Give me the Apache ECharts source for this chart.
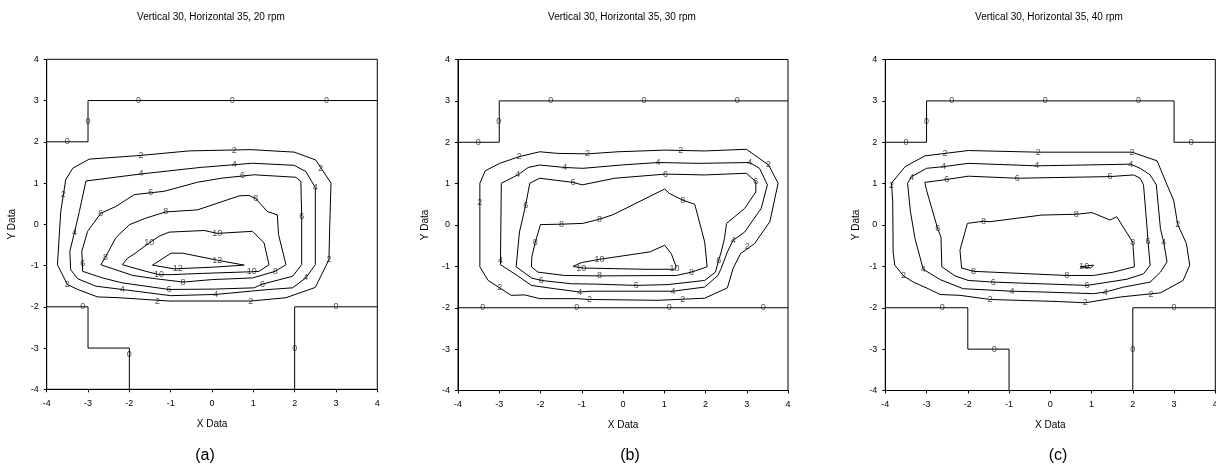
<!DOCTYPE html>
<html>
<head>
<meta charset="utf-8">
<script src="https://cdn.jsdelivr.net/npm/echarts@6/dist/echarts.min.js"></script>
<style>
html,body{margin:0;padding:0;background:#fff;}
#chart{width:1216px;height:471px;}
</style>
</head>
<body>
<div id="chart"></div>
<script>
// ---------- titles / tick values ----------
const panelTitles = ["Vertical 30, Horizontal 35, 20 rpm", "Vertical 30, Horizontal 35, 30 rpm", "Vertical 30, Horizontal 35, 40 rpm"];
const panelTags = ["(a)", "(b)", "(c)"];
const axisMin = -4, axisMax = 4, axisStep = 1;

// ---------- panel (a): 20 rpm contour lines [x, y] ----------
const a0Top = [[-4,2],[-3,2],[-3,3],[4,3]];
const a0BL = [[-4,-2],[-3,-2],[-3,-3],[-2,-3],[-2,-4]];
const a0BR = [[2,-4],[2,-2],[4,-2]];
const a2 = [[-2.97,1.58],[-1.72,1.67],[-0.55,1.78],[0.94,1.81],[1.99,1.75],[2.51,1.56],[2.88,1.00],[2.85,0.0],[2.83,-0.86],[2.71,-1.10],[2.50,-1.53],[1.79,-1.78],[0.94,-1.86],[-1.04,-1.86],[-2.25,-1.78],[-2.77,-1.76],[-3.25,-1.58],[-3.50,-1.46],[-3.74,-0.98],[-3.66,0.31],[-3.54,1.08],[-3.37,1.36],[-2.97,1.58]];
const a4 = [[-3.05,1.05],[-1.72,1.22],[-0.27,1.38],[0.98,1.48],[1.99,1.43],[2.27,1.28],[2.50,0.89],[2.50,-0.98],[2.27,-1.30],[1.95,-1.54],[1.38,-1.58],[0.09,-1.70],[-1.00,-1.73],[-2.17,-1.58],[-2.81,-1.50],[-3.25,-1.32],[-3.42,-1.10],[-3.44,-0.65],[-3.33,-0.21],[-3.21,0.31],[-3.05,1.05]];
const a6 = [[-1.88,0.72],[-1.16,0.80],[-0.79,0.90],[-0.35,1.02],[0.25,1.12],[1.02,1.20],[2.03,1.14],[2.15,1.04],[2.17,0.19],[2.17,-0.98],[1.95,-1.26],[1.22,-1.45],[1.02,-1.54],[0.09,-1.57],[-1.04,-1.58],[-1.60,-1.50],[-2.17,-1.42],[-2.65,-1.30],[-3.13,-1.14],[-3.15,-0.65],[-3.01,-0.17],[-2.69,0.27],[-2.33,0.43],[-1.88,0.72]];
const a8 = [[-2.69,-0.98],[-1.92,-1.24],[-1.36,-1.32],[-0.70,-1.40],[0.01,-1.34],[0.98,-1.30],[1.53,-1.14],[1.79,-0.98],[1.61,-0.25],[1.58,0.23],[1.34,0.31],[1.06,0.62],[0.90,0.70],[0.66,0.69],[-0.35,0.35],[-1.12,0.30],[-1.60,0.15],[-2.00,-0.01],[-2.33,-0.33],[-2.58,-0.80],[-2.69,-0.98]];
const a10 = [[-2.17,-0.98],[-2.04,-0.82],[-1.84,-0.69],[-1.52,-0.45],[-1.28,-0.29],[-1.04,-0.19],[-0.19,-0.15],[0.13,-0.22],[0.98,-0.17],[1.26,-0.45],[1.38,-0.98],[1.14,-1.14],[0.96,-1.15],[-0.23,-1.19],[-0.99,-1.22],[-1.28,-1.22],[-1.60,-1.14],[-2.17,-0.98]];
const a12 = [[-1.44,-0.99],[-0.99,-0.70],[-0.71,-0.70],[0.13,-0.87],[0.78,-0.99],[0.01,-1.04],[-0.92,-1.08],[-1.44,-0.99]];
// contour labels [x, y, level]
const aLabels = [
[-3.50,2.0,0],[-3.0,2.5,0],[-1.78,3,0],[0.49,3,0],[2.77,3,0],[-3.13,-2,0],[-2.0,-3.15,0],[2.0,-3.0,0],[3.0,-2,0],
[-1.72,1.67,2],[0.54,1.78,2],[2.63,1.36,2],[-3.60,0.72,2],[2.83,-0.86,2],[-3.50,-1.46,2],[-1.32,-1.86,2],[0.94,-1.86,2],
[-1.72,1.22,4],[0.54,1.46,4],[2.50,0.89,4],[-3.33,-0.21,4],[2.27,-1.30,4],[-2.17,-1.58,4],[0.09,-1.70,4],
[-1.48,0.76,6],[0.74,1.18,6],[2.17,0.19,6],[-3.13,-0.96,6],[-1.04,-1.58,6],[1.22,-1.45,6],[-2.69,0.27,6],
[1.06,0.62,8],[-1.12,0.30,8],[-2.58,-0.80,8],[-0.70,-1.40,8],[1.53,-1.14,8],
[-1.52,-0.45,10],[0.13,-0.22,10],[-1.28,-1.22,10],[0.96,-1.15,10],
[0.13,-0.87,12],[-0.83,-1.08,12]];

// ---------- panel (b): 30 rpm ----------
const b0Top = [[-4,2],[-3,2],[-3,3],[4,3]];
const b0Bot = [[-4,-2],[4,-2]];
const b2 = [[-3.47,1.01],[-3.34,1.31],[-2.99,1.49],[-2.52,1.65],[-2.02,1.77],[-1.58,1.73],[-0.86,1.72],[-0.12,1.77],[1.01,1.81],[1.98,1.79],[2.99,1.83],[3.53,1.45],[3.76,1.01],[3.56,0.08],[3.19,-0.45],[2.85,-0.69],[2.67,-1.05],[2.53,-1.52],[1.98,-1.77],[0.85,-1.82],[-0.81,-1.80],[-1.13,-1.78],[-2.02,-1.78],[-2.38,-1.69],[-2.71,-1.70],[-2.99,-1.52],[-3.27,-1.34],[-3.47,-1.01],[-3.47,1.01]];
const b4 = [[-2.95,1.01],[-2.55,1.21],[-2.30,1.39],[-2.02,1.45],[-1.41,1.39],[-0.97,1.37],[-0.04,1.45],[0.85,1.51],[1.82,1.49],[3.07,1.51],[3.31,1.37],[3.50,0.97],[3.35,0.40],[2.95,-0.17],[2.67,-0.37],[2.53,-0.65],[2.38,-1.05],[2.30,-1.22],[1.98,-1.50],[1.21,-1.60],[-0.77,-1.60],[-1.05,-1.62],[-1.66,-1.54],[-2.22,-1.46],[-2.55,-1.23],[-2.97,-0.96],[-2.97,-0.85],[-2.95,1.01]];
const b6 = [[-2.26,1.01],[-2.02,1.13],[-1.21,1.03],[-0.99,0.97],[-0.20,1.13],[1.03,1.23],[1.98,1.21],[2.99,1.25],[3.22,1.05],[3.22,0.80],[2.95,0.40],[2.51,0.04],[2.46,-0.33],[2.38,-0.65],[2.32,-0.85],[2.24,-1.14],[1.98,-1.34],[1.09,-1.44],[0.32,-1.46],[-0.61,-1.43],[-1.25,-1.42],[-1.98,-1.34],[-2.22,-1.28],[-2.59,-1.01],[-2.51,-0.17],[-2.36,0.48],[-2.26,1.01]];
const b8 = [[-2.00,0.01],[-1.49,0.02],[-0.97,0.04],[-0.57,0.14],[-0.24,0.25],[1.01,0.87],[1.13,0.76],[1.45,0.60],[1.74,0.50],[1.98,-0.41],[2.04,-1.01],[1.66,-1.14],[1.29,-1.22],[-0.57,-1.23],[-1.41,-1.22],[-2.06,-1.14],[-2.22,-1.01],[-2.21,-0.77],[-2.13,-0.43],[-2.00,0.01]];
const b10 = [[-1.21,-1.00],[-1.01,-0.91],[-0.57,-0.83],[0.65,-0.65],[1.01,-0.49],[1.17,-0.69],[1.29,-1.01],[1.25,-1.07],[0.53,-1.07],[-0.97,-1.04],[-1.21,-1.00]];
const bLabels = [
[-3.51,2,0],[-3.01,2.5,0],[-1.75,3,0],[0.51,3,0],[2.77,3,0],[-3.4,-2,0],[-1.12,-2,0],[1.12,-2,0],[3.40,-2,0],
[-2.52,1.65,2],[-0.86,1.72,2],[1.40,1.79,2],[3.53,1.45,2],[-3.47,0.55,2],[3.01,-0.53,2],[-2.99,-1.52,2],[-0.81,-1.80,2],[1.45,-1.80,2],
[-2.55,1.21,4],[-1.41,1.39,4],[0.85,1.51,4],[3.07,1.51,4],[2.67,-0.37,4],[-2.97,-0.85,4],[-1.05,-1.62,4],[1.21,-1.60,4],
[-1.21,1.03,6],[1.03,1.23,6],[3.22,1.05,6],[-2.36,0.48,6],[2.32,-0.85,6],[-1.98,-1.34,6],[0.32,-1.46,6],
[-1.49,0.02,8],[-0.57,0.14,8],[1.45,0.60,8],[-2.13,-0.43,8],[1.66,-1.14,8],[-0.57,-1.23,8],
[-0.57,-0.83,10],[-1.01,-1.04,10],[1.25,-1.05,10]];

// ---------- panel (c): 40 rpm ----------
const c0Top = [[-4,2],[-3,2],[-3,3],[3,3],[3,2],[4,2]];
const c0BL = [[-4,-2],[-2,-2],[-2,-3],[-1,-3],[-1,-4]];
const c0BR = [[2,-4],[2,-2],[4,-2]];
const c2 = [[-3.85,1.01],[-3.52,1.41],[-3.04,1.67],[-2.55,1.73],[-1.99,1.80],[-0.29,1.76],[1.98,1.76],[2.59,1.55],[2.83,0.97],[2.99,0.60],[3.09,0.01],[3.30,-0.45],[3.38,-0.97],[3.22,-1.34],[2.67,-1.64],[1.70,-1.74],[0.85,-1.88],[0.20,-1.85],[-1.46,-1.80],[-2.19,-1.70],[-2.67,-1.68],[-2.96,-1.54],[-3.32,-1.38],[-3.56,-1.23],[-3.77,-0.97],[-3.81,-0.65],[-3.82,0.56],[-3.85,1.01]];
const c4 = [[-3.36,1.17],[-3.00,1.37],[-2.59,1.41],[-1.99,1.49],[-0.33,1.43],[1.95,1.47],[2.18,1.37],[2.42,1.21],[2.57,0.97],[2.67,-0.09],[2.75,-0.42],[2.83,-0.89],[2.67,-1.14],[2.42,-1.38],[1.78,-1.50],[1.33,-1.62],[1.05,-1.66],[-0.17,-1.62],[-0.93,-1.60],[-2.11,-1.54],[-2.67,-1.32],[-3.08,-1.07],[-3.28,-0.33],[-3.39,0.32],[-3.46,1.01],[-3.36,1.17]];
const c6 = [[-3.04,1.03],[-2.51,1.10],[-1.99,1.18],[-0.80,1.13],[1.45,1.17],[2.02,1.21],[2.18,1.13],[2.26,0.97],[2.34,0.00],[2.37,-0.41],[2.42,-0.97],[2.26,-1.18],[1.86,-1.31],[0.89,-1.46],[-1.38,-1.38],[-1.99,-1.34],[-2.31,-1.23],[-2.63,-1.01],[-2.65,-0.29],[-2.73,-0.09],[-3.00,0.84],[-3.04,1.03]];
const c8 = [[-2.01,0.04],[-1.62,0.09],[-1.46,0.08],[-0.21,0.24],[0.63,0.26],[1.01,0.30],[1.45,0.12],[1.61,0.20],[2.00,-0.42],[2.04,-1.01],[1.53,-1.14],[1.05,-1.22],[0.40,-1.22],[-1.86,-1.12],[-2.15,-1.04],[-2.19,-0.61],[-2.01,0.04]];
const c10 = [[0.72,-1.01],[1.05,-0.97],[0.98,-1.04],[0.72,-1.01]];
const cLabels = [
[-3.5,2,0],[-3.0,2.5,0],[-2.39,3,0],[-0.12,3,0],[2.14,3,0],[3.42,2,0],[-2.62,-2,0],[-1.36,-3,0],[2.0,-3,0],[3.0,-2,0],
[-2.55,1.73,2],[-0.29,1.76,2],[1.98,1.76,2],[-3.85,0.95,2],[3.09,0.01,2],[-3.56,-1.23,2],[2.44,-1.68,2],[-1.46,-1.80,2],[0.85,-1.88,2],
[-3.36,1.15,4],[-2.59,1.41,4],[-0.33,1.43,4],[1.95,1.47,4],[2.75,-0.42,4],[-3.08,-1.07,4],[-0.93,-1.60,4],[1.33,-1.62,4],
[-2.51,1.10,6],[-0.80,1.13,6],[1.45,1.17,6],[-2.73,-0.09,6],[2.37,-0.41,6],[-1.38,-1.38,6],[0.89,-1.46,6],
[-1.62,0.09,8],[0.63,0.26,8],[2.00,-0.42,8],[-1.86,-1.12,8],[0.40,-1.22,8],
[0.82,-1.01,10]];

// ---------- build ----------
const FONT = "'Liberation Sans', Arial, sans-serif";
const panels = [
  {lines:[a0Top,a0BL,a0BR,a2,a4,a6,a8,a10,a12], labels:aLabels},
  {lines:[b0Top,b0Bot,b2,b4,b6,b8,b10], labels:bLabels},
  {lines:[c0Top,c0BL,c0BR,c2,c4,c6,c8,c10], labels:cLabels}
];
const grids = [
  {left:46.7, top:59.3, width:330.6, height:330},
  {left:458, top:59.5, width:330, height:331},
  {left:885.3, top:59.5, width:330, height:331}
];
const yNameGaps = [29, 28, 24];
const titleX = [211, 622, 1049];
const tagX = [205, 630, 1058];

const option = {
  animation:false,
  backgroundColor:'#fff',
  grid: grids.map(g => Object.assign({show:true, borderColor:'#000', borderWidth:1, backgroundColor:'transparent', containLabel:false, outerBoundsMode:'none'}, g)),
  xAxis: grids.map((g,i) => ({
    type:'value', gridIndex:i, min:axisMin, max:axisMax, interval:axisStep,
    name:'X Data', nameLocation:'middle', nameGap:30,
    nameTextStyle:{fontSize:10, color:'#000', fontFamily:FONT},
    axisLine:{show:true, onZero:false, lineStyle:{color:'#000', width:1}},
    axisTick:{show:true, length:3, inside:false, lineStyle:{color:'#000'}},
    axisLabel:{fontSize:9, color:'#000', margin:10, fontFamily:FONT, showMinLabel:true, showMaxLabel:true, hideOverlap:false},
    splitLine:{show:false}
  })),
  yAxis: grids.map((g,i) => ({
    type:'value', gridIndex:i, min:axisMin, max:axisMax, interval:axisStep,
    name:'Y Data', nameLocation:'middle', nameGap:yNameGaps[i], nameRotate:90,
    nameTextStyle:{fontSize:10, color:'#000', fontFamily:FONT},
    axisLine:{show:true, onZero:false, lineStyle:{color:'#000', width:1}},
    axisTick:{show:true, length:3, inside:false, lineStyle:{color:'#000'}},
    axisLabel:{fontSize:9, color:'#000', margin:8, fontFamily:FONT, showMinLabel:true, showMaxLabel:true, hideOverlap:false},
    splitLine:{show:false}
  })),
  graphic: [].concat(
    panelTitles.map((t,i) => ({type:'text', x:titleX[i], y:17, silent:true,
      style:{text:t, fill:'#000', font:'10px ' + FONT, textAlign:'center', textVerticalAlign:'middle'}})),
    panelTags.map((t,i) => ({type:'text', x:tagX[i], y:456, silent:true,
      style:{text:t, fill:'#000', font:'16px ' + FONT, textAlign:'center', textVerticalAlign:'middle'}}))
  ),
  series: []
};

panels.forEach((p, i) => {
  p.lines.forEach(pts => {
    option.series.push({
      type:'line', xAxisIndex:i, yAxisIndex:i, data:pts,
      showSymbol:false, symbol:'none', silent:true, clip:true,
      lineStyle:{color:'#000', width:1}
    });
  });
  option.series.push({
    type:'scatter', xAxisIndex:i, yAxisIndex:i, data:p.labels,
    symbolSize:0, silent:true,
    label:{show:true, position:'inside', formatter: q => String(q.value[2]),
      fontSize:9, color:'#222', fontFamily:FONT}
  });
});

const chart = echarts.init(document.getElementById('chart'), null, {renderer:'canvas'});
chart.setOption(option);
</script>
</body>
</html>
